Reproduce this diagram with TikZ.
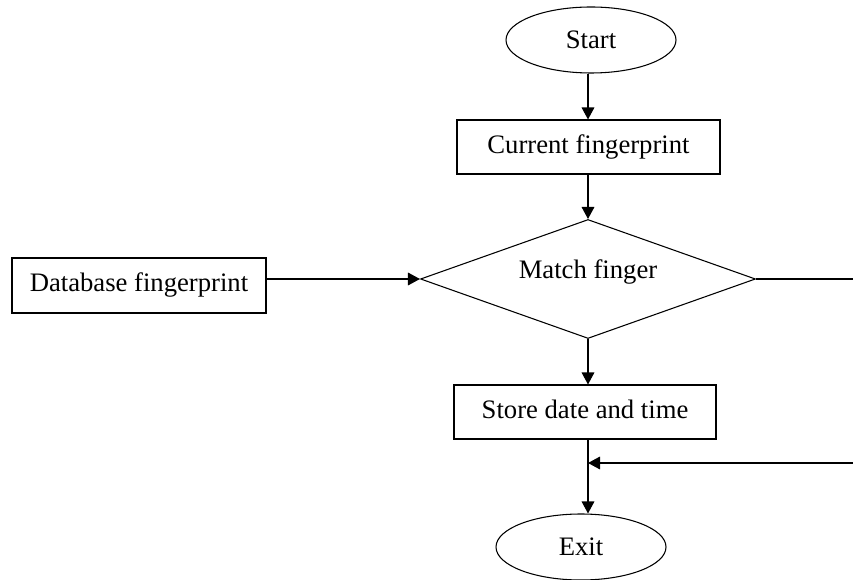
\documentclass[tikz,border=0pt]{standalone}
\usepackage{fontspec}
\setmainfont{Liberation Serif}
\usetikzlibrary{shapes.geometric,arrows.meta}

\tikzset{
  base/.style={draw=black, line width=0.8pt, font=\fontsize{20}{24}\selectfont,
    inner sep=0pt, text height=14pt, text depth=4.5pt},
  terminal/.style={base, ellipse, minimum width=127.5pt, minimum height=49.5pt,
    text height=, text depth=},
  process/.style={base, rectangle, minimum height=40.5pt},
  decision/.style={base, diamond, aspect=2.8, minimum width=251.25pt, minimum height=89.25pt,
    text height=14pt, text depth=14pt},
  flow/.style={line width=0.9pt, -{Triangle[length=9pt,width=9.5pt]}},
  plain/.style={line width=0.9pt}
}

\begin{document}
\begin{tikzpicture}[x=0.75pt, y=-0.75pt]
  \useasboundingbox (0,0) rectangle (853,580);

  % flowchart nodes
  \node[terminal] (Start) at (591,40) {Start};
  \node[process, minimum width=197.25pt] (Current) at (588.5,147) {Current fingerprint};
  \node[decision] (Match) at (588,279) {Match finger};
  \node[process, minimum width=190.5pt, minimum height=41.25pt] (Database) at (139,285.5) {Database fingerprint};
  \node[process, minimum width=196.5pt] (Store) at (585,412) {Store date and time};
  \node[terminal] (Exit) at (581,547) {Exit};

  % loose ends of the bypass line at the right border
  \coordinate (bypassOut) at (853,279);
  \coordinate (bypassIn) at (853,463);

  % connectors
  \draw[flow] (Start.south -| Match) -- (Current.north -| Match);
  \draw[flow] (Current.south -| Match) -- (Match.north);
  \draw[flow] (Database.east |- Match.west) -- (Match.west);
  \draw[flow] (Match.south) -- (Store.north -| Match);
  \draw[flow] (Store.south -| Match) -- (Exit.north -| Match);
  \draw[plain] (Match.east) -- (bypassOut);
  \draw[flow] (bypassIn) -- (bypassIn -| Match);
\end{tikzpicture}
\end{document}
